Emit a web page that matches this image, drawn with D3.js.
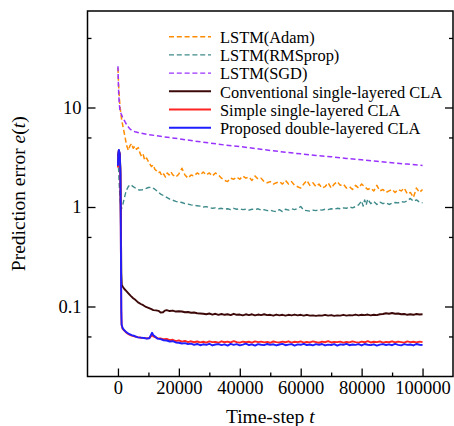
<!DOCTYPE html>
<html><head><meta charset="utf-8">
<script src="https://cdn.jsdelivr.net/npm/d3@7"></script>
<style>body{margin:0;background:#fff}svg{display:block}</style>
</head><body>
<svg id="c" width="454" height="426"></svg>
<script>
// ---------------- DATA ----------------
const seriesNames = ["LSTM(Adam)","LSTM(RMSprop)","LSTM(SGD)","Conventional single-layered CLA","Simple single-layered CLA","Proposed double-layered CLA"];
const xMajorTicks = [0,20000,40000,60000,80000,100000];
const xMinorTicks = [10000,30000,50000,70000,90000];
const yMajorTicks = [0.1,1,10];
const yMinorTicks = [0.05,0.5,5,50];
const yTickLabels = ["0.1","1","10"];

const adamEarly = [[0,25],[200,17],[500,12],[800,9.5],[1200,7.6],[1700,6.3],[2300,5.1],[2800,4.2],[3400,3.7],[3900,4.1],[4500,4.35],[5000,3.9],[5600,4.1],[6100,3.8],[6700,3.95],[7200,3.5],[7800,3.2],[8300,3.35],[8800,2.95],[9400,3.1],[9900,2.9],[10500,2.7],[11000,2.55],[11600,2.65],[12100,2.4],[12700,2.3],[13200,2.2],[13800,2.25],[14400,2.05],[15000,2.15],[15600,2.0],[16200,2.2],[16800,2.1],[17400,2.25]];
const adamTailStart = 18000;
const adamTail = [2.1,2.0,2.15,2.45,2.1,1.95,2.1,2.05,2.2,2.1,
  2.25,2.1,2.2,2.05,2.2,2.1,1.95,1.85,1.8,1.95,
  1.9,2.0,1.9,2.05,1.95,2.0,1.85,2.05,1.9,1.95,
  1.8,1.75,1.8,1.7,1.75,1.8,1.7,1.85,1.7,1.8,
  1.65,1.6,1.55,1.7,1.85,1.65,1.75,1.6,1.7,1.55,
  1.6,1.75,1.55,1.7,1.8,1.65,1.7,1.55,1.6,1.5,
  1.65,1.55,1.7,1.6,1.5,1.55,1.45,1.65,1.45,1.5,
  1.4,1.45,1.5,1.4,1.5,1.45,1.55,1.35,1.4,1.25,
  1.55,1.4,1.5];

const rmsprop = [[0,3.0],[200,2.4],[500,1.5],[800,1.1],[1100,0.95],[1500,1.02],[2000,1.2],[2500,1.38],[3000,1.52],[3500,1.62],[4000,1.68],[4500,1.65],[5000,1.6],[6000,1.53],[7000,1.48],[8000,1.49],[9000,1.53],[10000,1.57],[11000,1.58],[12000,1.52],[13000,1.43],[14000,1.35],[15000,1.3],[16000,1.25],[17000,1.2],[18000,1.17],[19000,1.14],[20000,1.12],[21000,1.11],[22000,1.08],[23000,1.07],[24000,1.05],[25000,1.04],[26000,1.03],[27000,1.02],[28000,1.0],[29000,1.01],[30000,0.99],[31000,0.97],[32000,0.98],[33000,0.96],[34000,0.97],[35000,0.95],[36000,0.96],[37000,0.94],[38000,0.97],[39000,0.95],[40000,0.96],[41000,0.94],[42000,0.95],[43000,0.93],[44000,0.95],[45000,0.94],[46000,0.96],[47000,0.93],[48000,0.94],[49000,0.92],[50000,0.93],[51000,0.91],[52000,0.9],[53000,0.94],[54000,0.9],[55000,0.95],[56000,0.93],[57000,0.96],[58000,0.94],[59000,0.97],[60000,1.01],[61000,0.93],[62000,0.92],[63000,0.91],[64000,0.93],[65000,0.92],[66000,0.94],[67000,0.93],[68000,0.95],[69000,0.94],[70000,0.96],[71000,0.95],[72000,0.97],[73000,0.96],[74000,0.98],[75000,0.97],[76000,1.0],[77000,0.98],[78000,1.01],[79000,1.05],[80000,1.15],[80500,1.02],[81000,1.18],[81500,1.05],[82000,1.2],[83000,1.08],[84000,1.14],[85000,1.06],[86000,1.12],[87000,1.08],[88000,1.1],[89000,1.06],[90000,1.09],[91000,1.11],[92000,1.1],[93000,1.13],[94000,1.12],[95000,1.15],[96000,1.22],[97000,1.14],[98000,1.18],[99000,1.12],[100000,1.1]];

const sgd = [[0,26],[100,19],[250,13.5],[450,10.8],[650,9.4],[1000,8.7],[1500,8.0],[2300,7.2],[3000,6.6],[3900,6.1],[4700,5.85],[5600,5.7],[7200,5.55],[10000,5.35],[15000,5.08],[20000,4.85],[25000,4.6],[30000,4.4],[35000,4.2],[40000,4.05],[45000,3.87],[50000,3.7],[55000,3.55],[60000,3.42],[65000,3.3],[70000,3.2],[75000,3.08],[80000,2.98],[85000,2.88],[90000,2.78],[95000,2.7],[100000,2.62]];

const convEarly = [[0,2.6],[100,3.4],[300,3.7],[600,3.4],[800,2.4],[950,0.8],[1100,0.22],[1250,0.165],[1600,0.158],[2100,0.15],[2850,0.142],[3500,0.135],[4200,0.128],[5000,0.121],[5800,0.116],[6600,0.11],[7500,0.106],[8300,0.103],[9200,0.099],[10000,0.097],[11000,0.094],[11600,0.092],[12500,0.0915],[13300,0.0905],[14000,0.087],[14800,0.0875],[15400,0.091]];
const convTailStart = 16000;
const convTail = [.092,.090,.091,.089,.0895,.089,.0875,.088,.0865,.087,
  .0855,.085,.0845,.0835,.085,.083,.0845,.0825,.084,.0825,
  .0835,.082,.0845,.0825,.083,.0815,.0835,.082,.0835,.0815,
  .083,.082,.0835,.082,.0825,.081,.083,.0815,.0825,.081,
  .0825,.0815,.083,.0815,.0825,.081,.0825,.081,.0815,.0805,
  .0815,.081,.0825,.081,.082,.0805,.0815,.081,.0825,.081,
  .082,.0815,.083,.0815,.0825,.082,.083,.0815,.0825,.082,
  .0835,.084,.0855,.0845,.086,.0845,.085,.0835,.084,.0825,
  .0835,.0825,.084,.083,.0835];

const simpleEarly = [[0,2.5],[100,3.3],[300,3.7],[600,3.35],[800,2.1],[900,0.85],[1000,0.24],[1100,0.088],[1200,0.065],[1500,0.06],[2000,0.0575],[2800,0.0545],[3600,0.0525],[4500,0.051],[5500,0.05],[6500,0.0492],[7500,0.0485],[8500,0.0484],[9500,0.0478],[10300,0.0482],[10800,0.05],[11200,0.052],[11600,0.05],[12000,0.0495],[13000,0.048],[14000,0.0478],[15000,0.0468],[16000,0.0472],[17000,0.0458],[18000,0.0463],[19000,0.0449],[20000,0.0456],[21000,0.0443],[22000,0.0451],[23000,0.0439],[24000,0.0447],[25000,0.0437]];
const simpleTailStart = 26000;
const simpleTail = [.0445,.0436,.0442,.0433,.0446,.0438,.0441,.0432,.0447,.0437,
  .0443,.0435,.0448,.0439,.0434,.0444,.0437,.0442,.0433,.0446,
  .0438,.0444,.0436,.0441,.0432,.0445,.0439,.0435,.0443,.0437,
  .0447,.0434,.0442,.0438,.0445,.0433,.0440,.0436,.0446,.0439,
  .0432,.0443,.0437,.0448,.0435,.0441,.0438,.0444,.0433,.0440,
  .0436,.0446,.0439,.0434,.0443,.0437,.0449,.0435,.0442,.0438,
  .0445,.0433,.0441,.0437,.0447,.0436,.0443,.0439,.0434,.0446,
  .0438,.0442,.0435,.0444,.0439];

const propEarly = [[0,2.6],[100,3.4],[300,3.75],[600,3.4],[800,2.2],[900,0.9],[1000,0.25],[1100,0.09],[1200,0.066],[1500,0.061],[2000,0.058],[2800,0.055],[3600,0.053],[4500,0.0515],[5500,0.0505],[6500,0.049],[7500,0.0487],[8500,0.0482],[9500,0.0476],[10300,0.048],[10800,0.0515],[11200,0.0545],[11600,0.0515],[12000,0.0505],[13000,0.0475],[14000,0.047],[15000,0.0458],[16000,0.0455],[17000,0.0445],[18000,0.0448],[19000,0.0435],[20000,0.0432],[21000,0.0425],[22000,0.0428],[23000,0.0418],[24000,0.0424]];
const propTailStart = 25000;
const propTail = [.0412,.0420,.0408,.0417,.0411,.0422,.0406,.0415,.0419,.0409,
  .0416,.0405,.0421,.0412,.0418,.0407,.0414,.0423,.0410,.0416,
  .0404,.0419,.0413,.0409,.0420,.0411,.0417,.0406,.0415,.0421,
  .0408,.0414,.0419,.0405,.0416,.0412,.0422,.0409,.0415,.0407,
  .0418,.0411,.0420,.0406,.0414,.0410,.0419,.0404,.0416,.0412,
  .0421,.0408,.0415,.0411,.0418,.0406,.0420,.0413,.0409,.0417,
  .0405,.0414,.0419,.0410,.0416,.0408,.0421,.0412,.0407,.0418,
  .0411,.0415,.0406,.0420,.0413,.0410];

// ---------------- STYLE ----------------
const colors = ["#ff8c00","#3f8a8a","#9933ff","#3d0808","#ff2424","#1e1eff"];
const dashed = [true,true,true,false,false,false];
const widths = [1.5,1.4,1.5,1.9,1.9,1.9];
const DASH = "5,2.8";
const FONT = "'Liberation Serif','Times New Roman',Times,serif";

// ---------------- BUILD ----------------
const tail = (start, vals, step) => vals.map((v,i)=>[start+i*step, v]);
const seriesData = [
  adamEarly.concat(tail(adamTailStart, adamTail, 1000)),
  rmsprop,
  sgd,
  convEarly.concat(tail(convTailStart, convTail, 1000)),
  simpleEarly.concat(tail(simpleTailStart, simpleTail, 1000)),
  propEarly.concat(tail(propTailStart, propTail, 1000))
];

const L=87.5, R=453, T=11, B=376.5;
const svg = d3.select("#c");
const x = d3.scaleLinear().domain([-10000,110000]).range([L,R]);
const y = d3.scaleLog().domain([0.01979,93.3]).range([B,T]);

svg.append("defs").append("clipPath").attr("id","clip")
  .append("rect").attr("x",L).attr("y",T).attr("width",R-L).attr("height",B-T);

const line = d3.line().x(d=>x(d[0])).y(d=>y(d[1]));
const g = svg.append("g").attr("clip-path","url(#clip)");
seriesData.forEach((data,i)=>{
  g.append("path").datum(data)
    .attr("d",line)
    .attr("fill","none")
    .attr("stroke",colors[i])
    .attr("stroke-width",widths[i])
    .attr("stroke-linejoin","round")
    .attr("stroke-dasharray",dashed[i]?DASH:null);
});

// axes
function styleAxis(sel){
  sel.select(".domain").remove();
  sel.selectAll(".tick line").attr("stroke","#000").attr("stroke-width",1.3);
  sel.selectAll(".tick text").attr("fill","#000").style("font-family",FONT).style("font-size","18.5px");
}
svg.append("g").attr("transform",`translate(0,${B})`)
  .call(d3.axisBottom(x).tickValues(xMajorTicks).tickSize(-8).tickPadding(4).tickFormat(d3.format("d")))
  .call(styleAxis);
svg.append("g").attr("transform",`translate(0,${B})`)
  .call(d3.axisBottom(x).tickValues(xMinorTicks).tickSize(-4).tickFormat(""))
  .call(styleAxis);
svg.append("g").attr("transform",`translate(${L},0)`)
  .call(d3.axisLeft(y).tickValues(yMajorTicks).tickSize(-8).tickPadding(6).tickFormat((d,i)=>yTickLabels[i]))
  .call(styleAxis);
svg.append("g").attr("transform",`translate(${L},0)`)
  .call(d3.axisLeft(y).tickValues(yMinorTicks).tickSize(-4).tickFormat(""))
  .call(styleAxis);
svg.append("g").attr("transform",`translate(${R},0)`)
  .call(d3.axisRight(y).tickValues(yMajorTicks).tickSize(-8).tickFormat(""))
  .call(styleAxis);
svg.append("g").attr("transform",`translate(${R},0)`)
  .call(d3.axisRight(y).tickValues(yMinorTicks).tickSize(-4).tickFormat(""))
  .call(styleAxis);

svg.append("rect").attr("x",L).attr("y",T).attr("width",R-L).attr("height",B-T)
  .attr("fill","none").attr("stroke","#000").attr("stroke-width",1.5);

// axis titles
const xt = svg.append("text").attr("x",(L+R)/2).attr("y",423).attr("text-anchor","middle")
  .style("font-family",FONT).style("font-size","19.5px").attr("fill","#000");
xt.append("tspan").text("Time-step ");
xt.append("tspan").style("font-style","italic").text("t");

const yt = svg.append("text").attr("transform",`translate(24.5,${(T+B)/2}) rotate(-90)`).attr("text-anchor","middle")
  .style("font-family",FONT).style("font-size","19.5px").attr("fill","#000");
yt.append("tspan").text("Prediction error ");
yt.append("tspan").style("font-style","italic").text("e");
yt.append("tspan").text("(");
yt.append("tspan").style("font-style","italic").text("t");
yt.append("tspan").text(")");

// legend
const lg = svg.append("g");
seriesNames.forEach((n,i)=>{
  const cy = 36.7 + i*18.2;
  lg.append("line").attr("x1",169).attr("x2",211).attr("y1",cy).attr("y2",cy)
    .attr("stroke",colors[i]).attr("stroke-width",dashed[i]?1.4:2)
    .attr("stroke-dasharray",dashed[i]?DASH:null);
  lg.append("text").attr("x",220).attr("y",cy+6.3).text(n)
    .style("font-family",FONT).style("font-size","16.4px").attr("fill","#000");
});
</script>
</body></html>
